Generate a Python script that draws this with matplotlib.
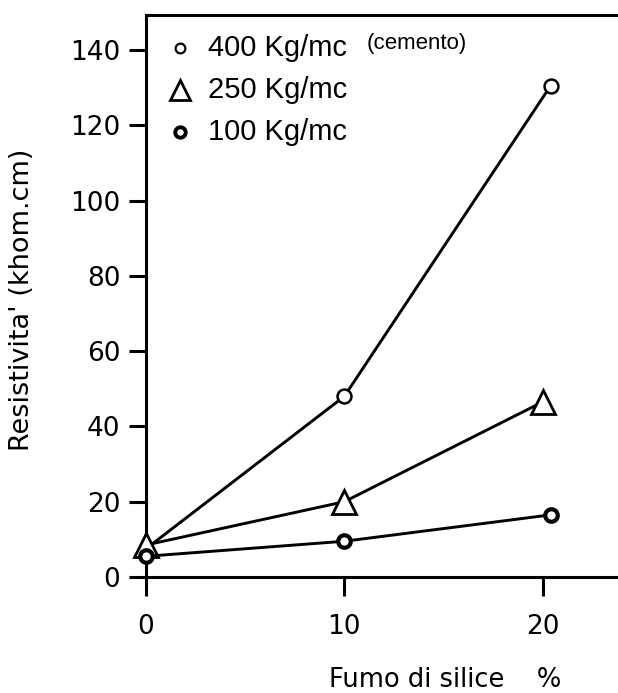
import matplotlib
matplotlib.use("Agg")
import matplotlib.pyplot as plt

# data
x400 = [0, 10, 20.4]
y400 = [7.5, 48, 130.5]
x250 = [0, 10, 20]
y250 = [8.5, 20, 46.5]
x100 = [0, 10, 20.4]
y100 = [5.5, 9.5, 16.5]
legend_labels = ["400 Kg/mc", "250 Kg/mc", "100 Kg/mc"]
legend_note = "(cemento)"
xticks = [0, 10, 20]
yticks = [0, 20, 40, 60, 80, 100, 120, 140]
xlabel = "Fumo di silice    %"
ylabel = "Resistivita' (khom.cm)"

plt.rcParams['font.family'] = ['DejaVu Sans']
fig = plt.figure(figsize=(6.18, 6.93), dpi=100)
ax = fig.add_axes([146/618, 1-577/693, 1-146/618, (577-15)/693])
ax.set_xlim(0, 23.8)
ax.set_ylim(0, 149.3)

lw = 2.1
ax.plot(x400, y400, color='black', lw=lw, marker='o', ms=10, mfc='white', mec='black', mew=1.8, clip_on=False, zorder=3)
ax.plot(x250, y250, color='black', lw=lw, marker='^', ms=17, mfc='white', mec='black', mew=2.0, clip_on=False, zorder=3)
ax.plot(x100, y100, color='black', lw=lw, marker='o', ms=9, mfc='white', mec='black', mew=3.0, clip_on=False, zorder=4)

ax.spines['right'].set_visible(False)
for s in ['left', 'bottom', 'top']:
    ax.spines[s].set_linewidth(2.2)

ax.set_xticks(xticks)
ax.set_yticks(yticks)
ax.tick_params(axis='y', direction='out', length=12.5, width=2.2, labelsize=19, pad=6)
ax.tick_params(axis='x', direction='out', length=14, width=2.2, labelsize=19, pad=13)

fig.text(22/618, 1-300/693, ylabel, fontsize=19.5, rotation=90, ha='center', va='center')
fig.text(445/618, 1-680/693, xlabel, fontsize=18.5, ha='center', va='center')

# legend
leg_font = ['Liberation Sans', 'DejaVu Sans']
rows = [48, 90, 132]
styles = [dict(marker='o', ms=7, mew=1.6), dict(marker='^', ms=15, mew=2.0), dict(marker='o', ms=7.5, mew=2.8)]
for lab, yy, st in zip(legend_labels, rows, styles):
    ax.plot([(180-146)/472], [1-(yy-15)/562], transform=ax.transAxes, color='black', mfc='white',
            mec='black', ls='none', clip_on=False, **st)
    ax.text((208-146)/472, 1-(yy-15)/562, lab, transform=ax.transAxes, fontsize=21,
            family=leg_font, ha='left', va='center')
ax.text((367-146)/472, 1-(44-15)/562, legend_note, transform=ax.transAxes, fontsize=16,
        family=leg_font, ha='left', va='center')

fig.savefig("out.png", dpi=100)
